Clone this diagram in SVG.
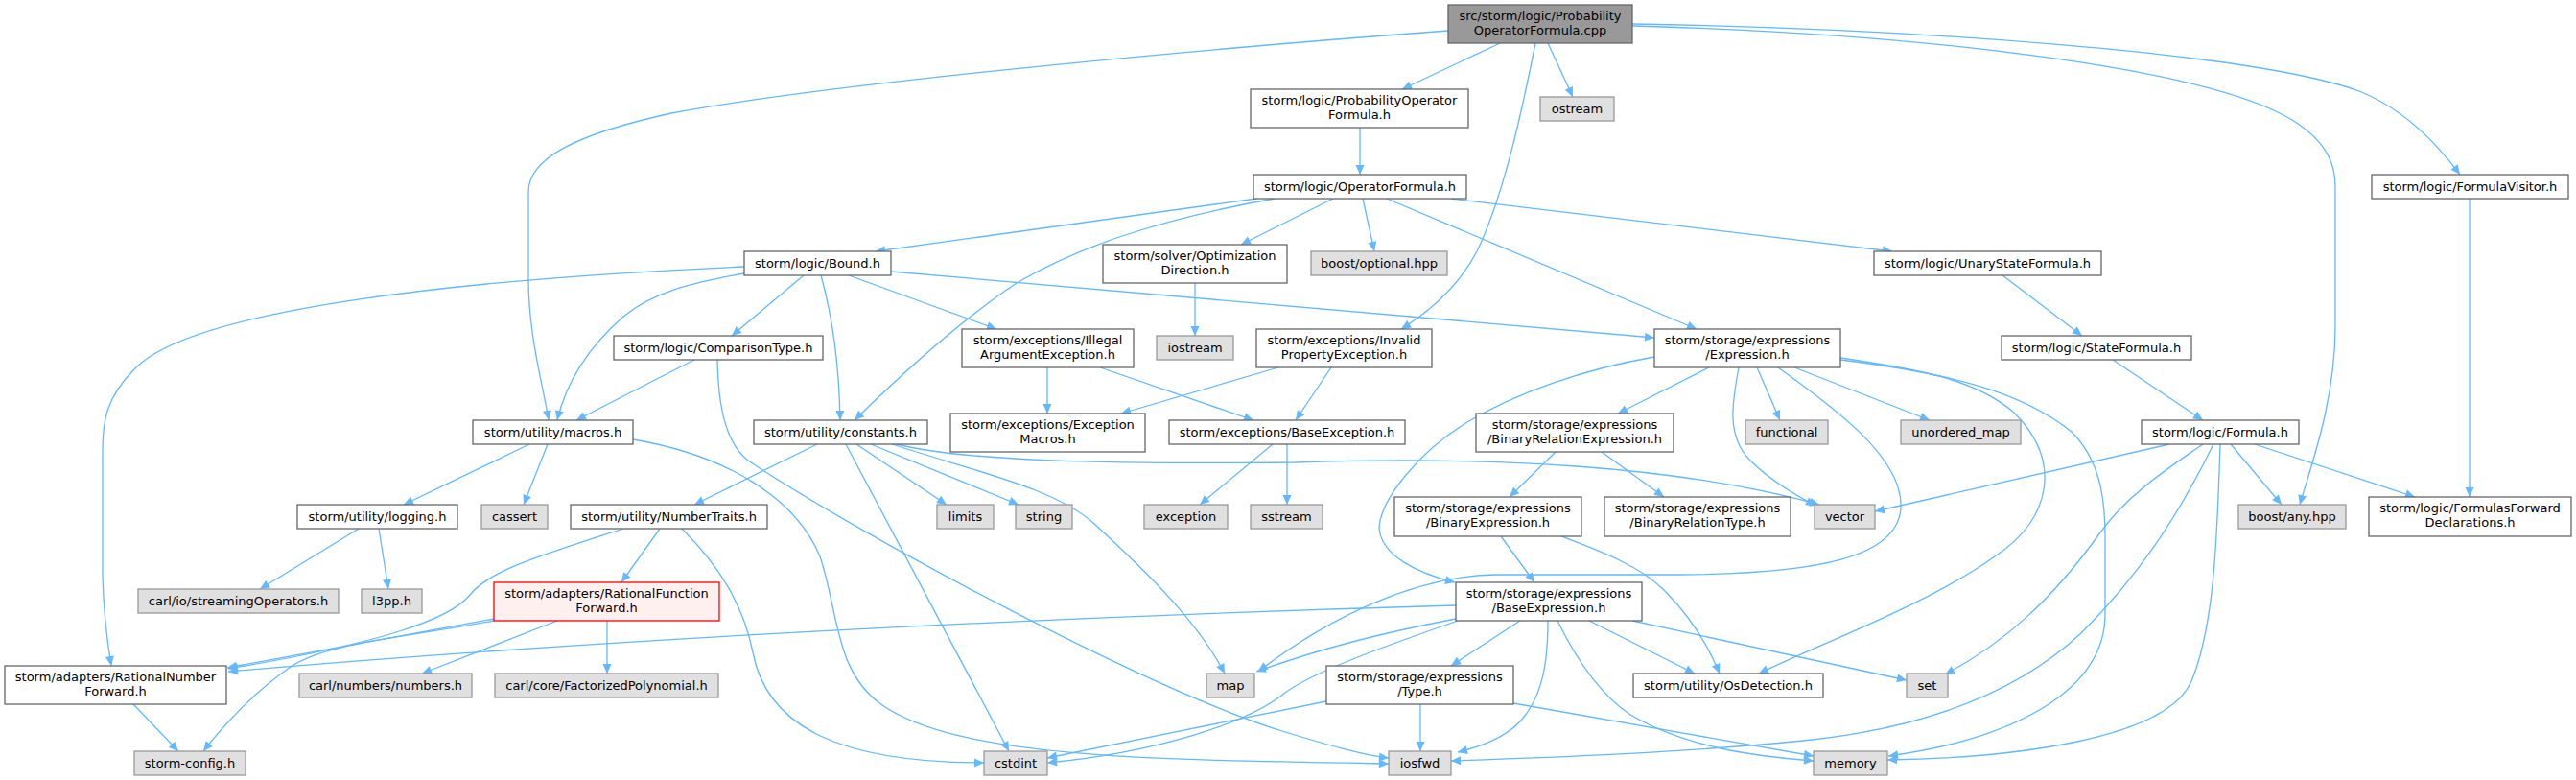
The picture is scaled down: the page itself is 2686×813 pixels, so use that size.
<svg xmlns="http://www.w3.org/2000/svg" width="2686" height="813" viewBox="0 0 2686 813">
<style>
rect{stroke-width:1.3}
.n rect{fill:#fff;stroke:#666}
.x rect{fill:#e0e0e0;stroke:#999}
.m rect{fill:#999;stroke:#666}
.r rect{fill:#fff0f0;stroke:#f00}
text{font-family:"DejaVu Sans","Liberation Sans",sans-serif;font-size:13px;fill:#000;text-anchor:middle}
#edges path{fill:none;stroke:#63b8ff;stroke-width:1.3;marker-end:url(#ah)}
</style>
<defs>
<marker id="ah" markerUnits="userSpaceOnUse" viewBox="0 0 10 10" refX="10" refY="5" markerWidth="11" markerHeight="10" orient="auto">
<path d="M0,0.5 L10,5 L0,9.5 z" fill="#63b8ff"/>
</marker>
</defs>
<rect width="2686" height="813" fill="#fff"/>
<g id="edges">
<path d="M1564,45 L1462,93"/>
<path d="M1614,45 L1640,101"/>
<path d="M1510,32 C1200,55 850,90 700,118 C600,140 551,165 551,200 L551,290 C551,350 566,400 572,438"/>
<path d="M1601,45 C1590,100 1570,200 1540,262 C1520,300 1490,325 1461,343"/>
<path d="M1702,27 C2000,35 2300,70 2390,125 C2430,150 2435,175 2435,195 L2435,340 C2435,420 2408,490 2398,526"/>
<path d="M1702,25 C2000,30 2350,55 2460,95 C2510,115 2545,155 2565,182"/>
<path d="M1418,133 L1418,182"/>
<path d="M1310,207 L913,262"/>
<path d="M1329,207 C1200,230 1120,260 1060,295 C1000,335 940,390 891,438"/>
<path d="M1390,207 L1294,255"/>
<path d="M1421,207 L1433,262"/>
<path d="M1446,207 L1769,343"/>
<path d="M1513,207 L1973,262"/>
<path d="M776,278 C500,290 200,320 140,385 C110,415 107,440 107,470 L107,600 C108,640 112,670 116,694"/>
<path d="M776,285 C720,295 680,305 650,330 C610,365 590,400 581,438"/>
<path d="M838,287 L763,350"/>
<path d="M856,287 C868,330 875,380 876,438"/>
<path d="M885,287 L1039,343"/>
<path d="M929,283 L1725,352"/>
<path d="M724,375 L601,438"/>
<path d="M748,375 C749,420 755,460 780,480 C900,560 1200,720 1340,763 C1380,775 1420,787 1448,790"/>
<path d="M660,458 C760,475 830,520 855,580 C875,640 870,700 920,735 C1000,790 1200,792 1448,796"/>
<path d="M552,463 L421,526"/>
<path d="M571,463 L546,526"/>
<path d="M374,551 L271,614"/>
<path d="M395,551 L405,614"/>
<path d="M852,463 L724,526"/>
<path d="M882,463 L1052,783"/>
<path d="M893,463 L987,526"/>
<path d="M908,463 L1062,526"/>
<path d="M930,463 C1030,495 1100,510 1140,545 C1200,600 1250,650 1277,702"/>
<path d="M935,463 C1000,480 1150,484 1350,482 C1550,475 1750,485 1897,526"/>
<path d="M688,551 L648,607"/>
<path d="M650,551 C560,580 510,595 490,620 C470,645 400,670 238,697"/>
<path d="M711,551 C750,590 775,630 785,680 C800,760 880,795 1026,795"/>
<path d="M515,645 L237,696"/>
<path d="M515,647 C420,665 340,670 303,695 C260,725 230,760 212,783"/>
<path d="M581,647 L440,702"/>
<path d="M633,647 L633,702"/>
<path d="M139,734 L186,783"/>
<path d="M1092,383 L1092,431"/>
<path d="M1147,383 L1307,438"/>
<path d="M1333,383 L1169,431"/>
<path d="M1388,383 L1351,438"/>
<path d="M1327,463 L1251,526"/>
<path d="M1342,463 L1342,526"/>
<path d="M1246,295 L1246,350"/>
<path d="M1725,372 C1650,385 1580,410 1530,440 C1480,470 1440,520 1438,550 C1440,580 1480,598 1517,607"/>
<path d="M1782,383 L1687,431"/>
<path d="M1832,383 L1856,438"/>
<path d="M1871,383 L2012,438"/>
<path d="M1813,383 C1806,420 1800,455 1825,480 C1845,500 1870,515 1893,527"/>
<path d="M1854,383 C1920,430 1985,480 1982,530 C1978,580 1900,598 1750,599 L1560,599 C1480,600 1390,640 1312,700"/>
<path d="M1919,373 C2000,385 2060,395 2100,430 C2150,480 2140,540 2080,580 C2010,630 1900,670 1834,702"/>
<path d="M1919,375 C2040,390 2110,410 2160,450 C2190,480 2195,520 2195,560 L2195,640 C2195,720 2100,770 1969,788"/>
<path d="M1622,471 L1574,518"/>
<path d="M1670,471 L1735,518"/>
<path d="M1565,559 L1600,607"/>
<path d="M1628,559 C1670,575 1710,590 1735,615 C1765,645 1782,675 1793,702"/>
<path d="M1518,631 C1200,640 700,660 238,700"/>
<path d="M1518,645 C1440,660 1380,675 1310,700"/>
<path d="M1520,647 C1440,675 1370,700 1340,722 C1300,755 1200,785 1092,795"/>
<path d="M1585,647 L1513,694"/>
<path d="M1614,647 C1614,700 1605,730 1585,752 C1570,768 1545,778 1520,784"/>
<path d="M1624,647 C1645,690 1670,725 1700,745 C1760,780 1830,788 1891,793"/>
<path d="M1657,647 L1767,702"/>
<path d="M1702,647 L1988,709"/>
<path d="M1383,731 L1092,790"/>
<path d="M1481,734 L1481,783"/>
<path d="M1578,733 L1891,788"/>
<path d="M2088,287 L2171,350"/>
<path d="M2203,375 L2297,438"/>
<path d="M2575,207 L2575,518"/>
<path d="M2262,463 L1955,533"/>
<path d="M2297,463 C2250,495 2215,520 2190,555 C2140,625 2090,670 2028,703"/>
<path d="M2308,463 C2270,540 2230,600 2170,660 C2100,725 2000,760 1880,772 C1750,785 1600,790 1513,793"/>
<path d="M2315,463 C2312,550 2310,650 2285,710 C2260,770 2100,790 1968,792"/>
<path d="M2326,463 L2379,526"/>
<path d="M2351,463 L2518,518"/>
</g>
<g id="n_main" class="m"><rect x="1510" y="5" width="192" height="40"/><text x="1606" y="21">src/storm/logic/Probability</text><text x="1606" y="36">OperatorFormula.cpp</text></g>
<g id="n_probop" class="n"><rect x="1304" y="93" width="227" height="40"/><text x="1417.5" y="109">storm/logic/ProbabilityOperator</text><text x="1417.5" y="124">Formula.h</text></g>
<g id="n_ostream" class="x"><rect x="1606" y="101" width="77" height="25"/><text x="1644.5" y="118">ostream</text></g>
<g id="n_opformula" class="n"><rect x="1307" y="182" width="222" height="25"/><text x="1418" y="199">storm/logic/OperatorFormula.h</text></g>
<g id="n_visitor" class="n"><rect x="2473" y="182" width="205" height="25"/><text x="2575.5" y="199">storm/logic/FormulaVisitor.h</text></g>
<g id="n_bound" class="n"><rect x="776" y="262" width="153" height="25"/><text x="852.5" y="279">storm/logic/Bound.h</text></g>
<g id="n_optdir" class="n"><rect x="1150" y="255" width="192" height="40"/><text x="1246" y="271">storm/solver/Optimization</text><text x="1246" y="286">Direction.h</text></g>
<g id="n_optional" class="x"><rect x="1367" y="262" width="142" height="25"/><text x="1438" y="279">boost/optional.hpp</text></g>
<g id="n_unary" class="n"><rect x="1954" y="262" width="237" height="25"/><text x="2072.5" y="279">storm/logic/UnaryStateFormula.h</text></g>
<g id="n_comparison" class="n"><rect x="640" y="350" width="218" height="25"/><text x="749" y="367">storm/logic/ComparisonType.h</text></g>
<g id="n_illegal" class="n"><rect x="1003" y="343" width="179" height="40"/><text x="1092.5" y="359">storm/exceptions/Illegal</text><text x="1092.5" y="374">ArgumentException.h</text></g>
<g id="n_iostream" class="x"><rect x="1206" y="350" width="80" height="25"/><text x="1246" y="367">iostream</text></g>
<g id="n_invalid" class="n"><rect x="1310" y="343" width="183" height="40"/><text x="1401.5" y="359">storm/exceptions/Invalid</text><text x="1401.5" y="374">PropertyException.h</text></g>
<g id="n_expression" class="n"><rect x="1725" y="343" width="194" height="40"/><text x="1822" y="359">storm/storage/expressions</text><text x="1822" y="374">/Expression.h</text></g>
<g id="n_state" class="n"><rect x="2087" y="350" width="198" height="25"/><text x="2186" y="367">storm/logic/StateFormula.h</text></g>
<g id="n_macros" class="n"><rect x="493" y="438" width="167" height="25"/><text x="576.5" y="455">storm/utility/macros.h</text></g>
<g id="n_constants" class="n"><rect x="786" y="438" width="181" height="25"/><text x="876.5" y="455">storm/utility/constants.h</text></g>
<g id="n_excmacros" class="n"><rect x="991" y="431" width="203" height="40"/><text x="1092.5" y="447">storm/exceptions/Exception</text><text x="1092.5" y="462">Macros.h</text></g>
<g id="n_baseexc" class="n"><rect x="1219" y="438" width="246" height="25"/><text x="1342" y="455">storm/exceptions/BaseException.h</text></g>
<g id="n_binrelexpr" class="n"><rect x="1539" y="431" width="206" height="40"/><text x="1642" y="447">storm/storage/expressions</text><text x="1642" y="462">/BinaryRelationExpression.h</text></g>
<g id="n_functional" class="x"><rect x="1820" y="438" width="86" height="25"/><text x="1863" y="455">functional</text></g>
<g id="n_umap" class="x"><rect x="1982" y="438" width="125" height="25"/><text x="2044.5" y="455">unordered_map</text></g>
<g id="n_formula" class="n"><rect x="2233" y="438" width="164" height="25"/><text x="2315" y="455">storm/logic/Formula.h</text></g>
<g id="n_logging" class="n"><rect x="310" y="526" width="167" height="25"/><text x="393.5" y="543">storm/utility/logging.h</text></g>
<g id="n_cassert" class="x"><rect x="502" y="526" width="69" height="25"/><text x="536.5" y="543">cassert</text></g>
<g id="n_numtraits" class="n"><rect x="595" y="526" width="205" height="25"/><text x="697.5" y="543">storm/utility/NumberTraits.h</text></g>
<g id="n_limits" class="x"><rect x="977" y="526" width="59" height="25"/><text x="1006.5" y="543">limits</text></g>
<g id="n_string" class="x"><rect x="1059" y="526" width="59" height="25"/><text x="1088.5" y="543">string</text></g>
<g id="n_exception" class="x"><rect x="1193" y="526" width="87" height="25"/><text x="1236.5" y="543">exception</text></g>
<g id="n_sstream" class="x"><rect x="1304" y="526" width="75" height="25"/><text x="1341.5" y="543">sstream</text></g>
<g id="n_binexpr" class="n"><rect x="1454" y="518" width="195" height="41"/><text x="1551.5" y="534">storm/storage/expressions</text><text x="1551.5" y="549">/BinaryExpression.h</text></g>
<g id="n_binreltype" class="n"><rect x="1673" y="518" width="194" height="41"/><text x="1770" y="534">storm/storage/expressions</text><text x="1770" y="549">/BinaryRelationType.h</text></g>
<g id="n_vector" class="x"><rect x="1892" y="526" width="63" height="25"/><text x="1923.5" y="543">vector</text></g>
<g id="n_any" class="x"><rect x="2334" y="526" width="112" height="25"/><text x="2390" y="543">boost/any.hpp</text></g>
<g id="n_fwddecl" class="n"><rect x="2470" y="518" width="211" height="41"/><text x="2575.5" y="534">storm/logic/FormulasForward</text><text x="2575.5" y="549">Declarations.h</text></g>
<g id="n_streamops" class="x"><rect x="144" y="614" width="209" height="25"/><text x="248.5" y="631">carl/io/streamingOperators.h</text></g>
<g id="n_l3pp" class="x"><rect x="377" y="614" width="63" height="25"/><text x="408.5" y="631">l3pp.h</text></g>
<g id="n_ratfunc" class="r"><rect x="515" y="607" width="235" height="40"/><text x="632.5" y="623">storm/adapters/RationalFunction</text><text x="632.5" y="638">Forward.h</text></g>
<g id="n_baseexpr" class="n"><rect x="1518" y="607" width="194" height="40"/><text x="1615" y="623">storm/storage/expressions</text><text x="1615" y="638">/BaseExpression.h</text></g>
<g id="n_ratnum" class="n"><rect x="5" y="694" width="231" height="40"/><text x="120.5" y="710">storm/adapters/RationalNumber</text><text x="120.5" y="725">Forward.h</text></g>
<g id="n_numbers" class="x"><rect x="312" y="702" width="180" height="25"/><text x="402" y="719">carl/numbers/numbers.h</text></g>
<g id="n_factpoly" class="x"><rect x="516" y="702" width="233" height="25"/><text x="632.5" y="719">carl/core/FactorizedPolynomial.h</text></g>
<g id="n_map" class="x"><rect x="1258" y="702" width="50" height="25"/><text x="1283" y="719">map</text></g>
<g id="n_type" class="n"><rect x="1383" y="694" width="195" height="40"/><text x="1480.5" y="710">storm/storage/expressions</text><text x="1480.5" y="725">/Type.h</text></g>
<g id="n_osdet" class="n"><rect x="1703" y="702" width="198" height="25"/><text x="1802" y="719">storm/utility/OsDetection.h</text></g>
<g id="n_set" class="x"><rect x="1988" y="702" width="43" height="25"/><text x="2009.5" y="719">set</text></g>
<g id="n_config" class="x"><rect x="140" y="783" width="116" height="25"/><text x="198" y="800">storm-config.h</text></g>
<g id="n_cstdint" class="x"><rect x="1026" y="783" width="66" height="25"/><text x="1059" y="800">cstdint</text></g>
<g id="n_iosfwd" class="x"><rect x="1448" y="783" width="65" height="25"/><text x="1480.5" y="800">iosfwd</text></g>
<g id="n_memory" class="x"><rect x="1891" y="783" width="77" height="25"/><text x="1929.5" y="800">memory</text></g>
</svg>
